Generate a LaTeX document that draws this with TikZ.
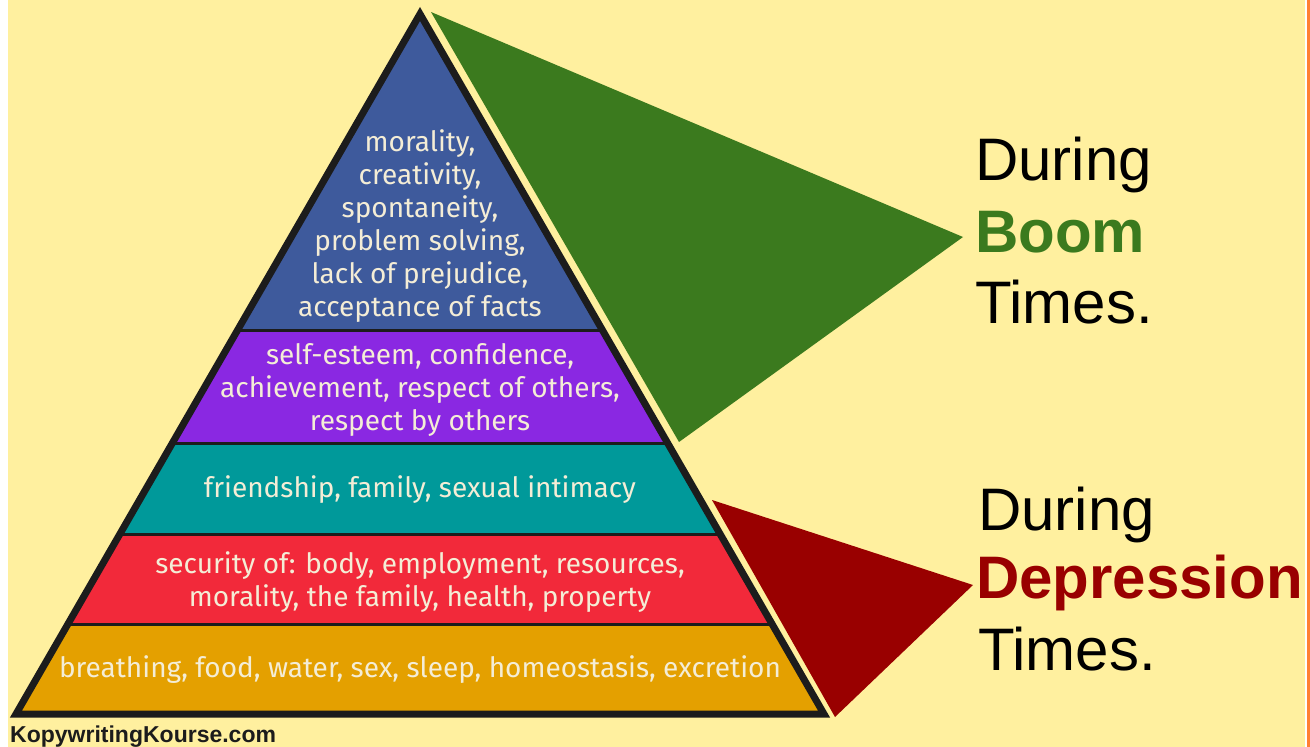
\documentclass[tikz,border=0pt]{standalone}
\usepackage{fontspec}
\setmainfont{Liberation Sans}
\newfontfamily\levelfont{Fira Sans}
\usepackage{xcolor}
\usetikzlibrary{positioning}

\definecolor{paper}{HTML}{FFF09F}
\definecolor{rim}{HTML}{FF8033}
\definecolor{cream}{HTML}{F4EDD6}
\definecolor{topblue}{HTML}{3E5A9C}
\definecolor{esteem}{HTML}{8A28E2}
\definecolor{belong}{HTML}{00999A}
\definecolor{safety}{HTML}{F2293A}
\definecolor{body}{HTML}{E4A000}
\definecolor{boom}{HTML}{3B7A1E}
\definecolor{slump}{HTML}{990000}
\definecolor{ink}{HTML}{1C1C1C}

\begin{document}
\begin{tikzpicture}
  [
    x=1pt, y=-1pt,
    level/.style={font=\levelfont\fontsize{28}{33}\selectfont,text=cream,align=center,inner sep=0pt},
    side/.style={font=\fontsize{60}{72}\selectfont,anchor=base west,inner sep=0pt},
    band line/.style={line width=3pt,draw=ink}
  ]
  \useasboundingbox (0,0) rectangle (1310,747);
  \fill[white] (0,0) rectangle (1310,747);
  \fill[paper] (8,0) rectangle (1305,747);
  \fill[rim] (1307,0) rectangle (1310,747);

  \coordinate (apex) at (420,14);
  \coordinate (base left) at (16,714);
  \coordinate (base right) at (824,714);

  \fill[boom] (431,12) -- (963,237) -- (679,442) -- cycle;
  \fill[slump] (712,500) -- (973,585) -- (835,717) -- cycle;

  \begin{scope}
    \clip (apex) -- (base left) -- (base right) -- cycle;
    \fill[topblue] (0,0) rectangle (1310,330);
    \fill[esteem] (0,330) rectangle (1310,443);
    \fill[belong] (0,443) rectangle (1310,534);
    \fill[safety] (0,534) rectangle (1310,624);
    \fill[body] (0,624) rectangle (1310,747);
    \draw[band line] (0,330) -- (1310,330);
    \draw[band line] (0,443) -- (1310,443);
    \draw[band line] (0,534) -- (1310,534);
    \draw[band line] (0,624) -- (1310,624);
  \end{scope}
  \draw[line width=7pt,draw=ink] (apex) -- (base left) -- (base right) -- cycle;

  \node[level] (growth) at (420,226) {morality,\\creativity,\\spontaneity,\\problem solving,\\lack of prejudice,\\acceptance of facts};
  \node[level] (esteem) at (420,390) {self-esteem, confidence,\\achievement, respect of others,\\respect by others};
  \node[level] (love) at (420,490) {friendship, family, sexual intimacy};
  \node[level] (security) at (420,582) {security of: body, employment, resources,\\morality, the family, health, property};
  \node[level] (needs) at (420,670) {breathing, food, water, sex, sleep, homeostasis, excretion};

  \node[side] (boom during) at (975,180) {During};
  \node[side,text=boom,font=\bfseries\fontsize{60}{72}\selectfont] (boom word) at (975,252) {Boom};
  \node[side] (boom times) at (975,323) {Times.};

  \node[side] (slump during) at (978,530) {During};
  \node[side,text=slump,font=\bfseries\fontsize{60}{72}\selectfont] (slump word) at (976,598) {Depression};
  \node[side] (slump times) at (978,670) {Times.};

  \node[font=\bfseries\fontsize{23}{24}\selectfont,text=ink,anchor=base west,inner sep=0pt] (site) at (10,742) {KopywritingKourse.com};
\end{tikzpicture}
\end{document}
